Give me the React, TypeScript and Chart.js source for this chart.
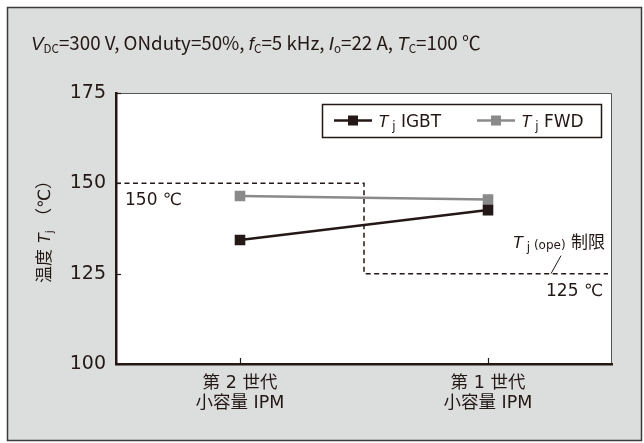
import { useEffect, useRef } from "react";
import { Chart, registerables } from "chart.js";

Chart.register(...registerables);

const categories: string[][] = [
  ["第 2 世代", "小容量 IPM"],
  ["第 1 世代", "小容量 IPM"],
];
const igbtValues = [134.3, 142.6];
const fwdValues = [146.5, 145.5];
const yTickValues = [100, 125, 150, 175];
const limitHigh = 150;
const limitLow = 125;
const limitSplit = 0.5; // category-scale position where the limit steps down

const INK = "#231815";
const GRAY = "#8a8a8a";
const BG = "#dcdddd";
const JP = '"DejaVu Sans", "Noto Sans CJK JP", sans-serif';
const CJK = '"Noto Sans CJK JP", "Noto Sans", sans-serif';
const IT = '"Liberation Sans", "DejaVu Sans", sans-serif';

type Seg = { t: string; it?: boolean; sub?: boolean; size?: number; dy?: number };

function segFont(s: Seg, base: number, fam: string) {
  const size = s.size ?? (s.sub ? base * 0.62 : base);
  return s.it ? `italic ${size}px ${IT}` : `${size}px ${fam}`;
}

function richWidth(ctx: CanvasRenderingContext2D, segs: Seg[], base: number, fam = JP) {
  let w = 0;
  for (const s of segs) {
    ctx.font = segFont(s, base, fam);
    w += ctx.measureText(s.t).width;
  }
  return w;
}

function drawRich(
  ctx: CanvasRenderingContext2D,
  segs: Seg[],
  x: number,
  y: number,
  base: number,
  color: string,
  fam = JP
) {
  ctx.save();
  ctx.fillStyle = color;
  ctx.textBaseline = "alphabetic";
  ctx.textAlign = "left";
  let cx = x;
  for (const s of segs) {
    ctx.font = segFont(s, base, fam);
    const dy = s.dy ?? (s.sub ? base * 0.18 : 0);
    ctx.fillText(s.t, cx, y + dy);
    cx += ctx.measureText(s.t).width;
  }
  ctx.restore();
  return cx - x;
}

const titleSegs: Seg[] = [
  { t: "V", it: true },
  { t: "DC", sub: true },
  { t: "=300 V, ONduty=50%, " },
  { t: "f", it: true },
  { t: "C", sub: true },
  { t: "=5 kHz, " },
  { t: "I", it: true },
  { t: "o", sub: true },
  { t: "=22 A, " },
  { t: "T", it: true },
  { t: "C", sub: true },
  { t: "=100 ℃" },
];

const yTitleSegs: Seg[] = [
  { t: "温度 " },
  { t: "T", it: true },
  { t: "j", sub: true },
  { t: " （℃）" },
];

const limitSegs: Seg[] = [
  { t: "T", it: true },
  { t: " j", sub: true, size: 12 },
  { t: " (ope)", size: 12, dy: 1 },
  { t: " 制限" },
];

const legendItems = [
  { label: "IGBT", color: INK },
  { label: "FWD", color: GRAY },
];

const decorPlugin = {
  id: "decor",
  beforeDraw(chart: any) {
    const { ctx, chartArea: a, width, height } = chart;
    ctx.save();
    ctx.fillStyle = "#ffffff";
    ctx.fillRect(0, 0, width, height);
    ctx.fillStyle = BG;
    ctx.fillRect(7, 7, width - 9, height - 9);
    ctx.strokeStyle = "#3a3a3a";
    ctx.lineWidth = 1.5;
    ctx.strokeRect(7.5, 7.5, width - 10, height - 10);
    // plot area
    ctx.fillStyle = "#ffffff";
    ctx.fillRect(a.left, a.top, a.right - a.left, a.bottom - a.top);
    ctx.strokeStyle = "#555";
    ctx.lineWidth = 1;
    ctx.beginPath();
    ctx.moveTo(a.left, a.top + 0.5);
    ctx.lineTo(a.right - 0.5, a.top + 0.5);
    ctx.lineTo(a.right - 0.5, a.bottom);
    ctx.stroke();
    // title, fitted to the reference width
    const tw = richWidth(ctx, titleSegs, 18, CJK);
    const tb = (18 * 450) / tw;
    drawRich(ctx, titleSegs, 31, 50, tb, INK, CJK);
    // y axis title
    ctx.translate(44, (a.top + a.bottom) / 2 - 1);
    ctx.rotate(-Math.PI / 2);
    const w = richWidth(ctx, yTitleSegs, 17);
    drawRich(ctx, yTitleSegs, -w / 2, 6, 17, INK);
    ctx.restore();
  },
  beforeDatasetsDraw(chart: any) {
    const { ctx, chartArea: a, scales } = chart;
    const x = scales.x;
    const y = scales.y;
    const yHigh = y.getPixelForValue(limitHigh);
    const yLow = y.getPixelForValue(limitLow);
    const xs = x.getPixelForValue(limitSplit);
    ctx.save();
    ctx.strokeStyle = INK;
    ctx.lineWidth = 1.5;
    ctx.setLineDash([5, 3.5]);
    ctx.beginPath();
    ctx.moveTo(a.left, yHigh);
    ctx.lineTo(xs, yHigh);
    ctx.lineTo(xs, yLow);
    ctx.lineTo(a.right - 4, yLow);
    ctx.stroke();
    ctx.setLineDash([]);
    // leader
    ctx.lineWidth = 1;
    ctx.beginPath();
    ctx.moveTo(xs + 187, yLow);
    ctx.lineTo(xs + 197, yLow - 18);
    ctx.stroke();
    ctx.restore();
    // labels
    drawRich(ctx, [{ t: `${limitHigh} ℃` }], a.left + 9, yHigh + 22, 17, INK);
    const w125 = richWidth(ctx, [{ t: `${limitLow} ℃` }], 17);
    drawRich(ctx, [{ t: `${limitLow} ℃` }], a.right - 9 - w125, yLow + 22, 17, INK);
    const wl = richWidth(ctx, limitSegs, 17);
    drawRich(ctx, limitSegs, a.right - 7 - wl, yLow - 26, 17, INK);
  },
  afterDraw(chart: any) {
    const { ctx, chartArea: a, scales } = chart;
    ctx.save();
    ctx.strokeStyle = INK;
    ctx.lineWidth = 1.2;
    for (const v of yTickValues) {
      const py = Math.round(scales.y.getPixelForValue(v)) + 0.5;
      ctx.beginPath();
      ctx.moveTo(a.left, py);
      ctx.lineTo(a.left + 5, py);
      ctx.stroke();
    }
    categories.forEach((_, i) => {
      const px = Math.round(scales.x.getPixelForValue(i)) + 0.5;
      ctx.beginPath();
      ctx.moveTo(px, a.bottom);
      ctx.lineTo(px, a.bottom - 6);
      ctx.stroke();
    });
    // legend
    const lx1 = a.right - 290;
    const lx2 = a.right - 11;
    const ly1 = a.top + 11;
    const ly2 = a.top + 44;
    ctx.fillStyle = "#ffffff";
    ctx.fillRect(lx1, ly1, lx2 - lx1, ly2 - ly1);
    ctx.strokeStyle = INK;
    ctx.lineWidth = 1.5;
    ctx.strokeRect(lx1 + 0.5, ly1 + 0.5, lx2 - lx1, ly2 - ly1);
    const cy = (ly1 + ly2) / 2;
    const starts = [lx1 + 12, lx1 + 155];
    legendItems.forEach((it, i) => {
      const sx = starts[i];
      ctx.strokeStyle = it.color;
      ctx.lineWidth = 2.5;
      ctx.beginPath();
      ctx.moveTo(sx, cy);
      ctx.lineTo(sx + 38, cy);
      ctx.stroke();
      ctx.fillStyle = it.color;
      ctx.fillRect(sx + 14, cy - 5, 10, 10);
      drawRich(
        ctx,
        [{ t: "T", it: true }, { t: " j", sub: true, size: 12 }, { t: " " + it.label }],
        sx + 44,
        cy + 6,
        17,
        INK
      );
    });
    ctx.restore();
  },
};

export default function App() {
  const ref = useRef<HTMLCanvasElement | null>(null);
  useEffect(() => {
    if (!ref.current) return;
    const chart = new Chart(ref.current, {
      type: "line",
      data: {
        labels: categories,
        datasets: [
          {
            label: "Tj IGBT",
            data: igbtValues,
            borderColor: INK,
            backgroundColor: INK,
            borderWidth: 2.5,
            pointStyle: "rect",
            pointRadius: 7.5,
            pointBorderWidth: 0,
          },
          {
            label: "Tj FWD",
            data: fwdValues,
            borderColor: GRAY,
            backgroundColor: GRAY,
            borderWidth: 2.5,
            pointStyle: "rect",
            pointRadius: 7.5,
            pointBorderWidth: 0,
          },
        ],
      },
      options: {
        animation: false,
        responsive: false,
        devicePixelRatio: 1,
        layout: { padding: { top: 93, right: 32, bottom: 0, left: 0 } },
        plugins: { legend: { display: false }, tooltip: { enabled: false } },
        scales: {
          x: {
            type: "category",
            offset: true,
            grid: { display: false, drawTicks: false },
            border: { display: true, color: INK, width: 2.5 },
            ticks: {
              color: INK,
              font: { family: JP, size: 17.5, lineHeight: 1.15 },
              padding: 9,
            },
            afterFit: (s: any) => {
              s.height = 79;
            },
          },
          y: {
            min: 100,
            max: 175,
            afterBuildTicks: (s: any) => {
              s.ticks = yTickValues.map((v) => ({ value: v }));
            },
            grid: { display: false, drawTicks: false },
            border: { display: true, color: INK, width: 2.5 },
            ticks: { color: INK, font: { family: JP, size: 19 }, padding: 10 },
            afterFit: (s: any) => {
              s.width = 116;
            },
          },
        },
      },
      plugins: [decorPlugin],
    } as any);
    return () => chart.destroy();
  }, []);
  return (
    <div style={{ position: "fixed", left: 0, top: 0, width: 644, height: 443 }}>
      <canvas ref={ref} width={644} height={443} style={{ display: "block" }} />
    </div>
  );
}
